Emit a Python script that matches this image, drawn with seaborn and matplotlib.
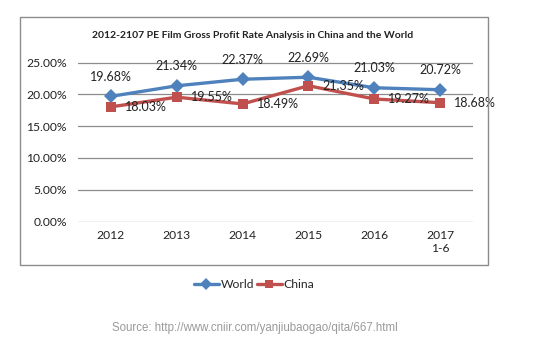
import matplotlib
matplotlib.use("Agg")
import matplotlib.pyplot as plt
from matplotlib.patches import Rectangle
from matplotlib.lines import Line2D
from matplotlib.ticker import PercentFormatter
import seaborn as sns
import pandas as pd

# Data
years = ["2012", "2013", "2014", "2015", "2016", "2017\n1-6"]
world = [19.68, 21.34, 22.37, 22.69, 21.03, 20.72]
china = [18.03, 19.55, 18.49, 21.35, 19.27, 18.68]
yticks = [0, 5, 10, 15, 20, 25]

title = "2012-2107 PE Film Gross Profit Rate Analysis in China and the World"
source = "Source: http://www.cniir.com/yanjiubaogao/qita/667.html"

blue = "#4F81BD"
red = "#C0504D"
text_color = "#222222"

df = pd.DataFrame({
    "pos": list(range(len(years))) * 2,
    "value": world + china,
    "series": ["World"] * len(years) + ["China"] * len(years),
})

sns.set_theme(style="white")
plt.rcParams["font.family"] = ["Lato", "DejaVu Sans"]

fig = plt.figure(figsize=(5.36, 3.48), dpi=100)
fig.patch.set_facecolor("white")

# chart frame
fig.patches.append(Rectangle((0.0373, 0.2385), 0.8731, 0.7125, transform=fig.transFigure,
                             fill=False, edgecolor="#8c8c8c", linewidth=1.0, zorder=0))

ax = fig.add_axes([0.1455, 0.362, 0.737, 0.4598])
ax.set_facecolor("none")

sns.lineplot(data=df, x="pos", y="value", hue="series", style="series",
             palette={"World": blue, "China": red},
             markers={"World": "D", "China": "s"}, dashes=False,
             linewidth=2.4, markersize=7, markeredgewidth=0, ax=ax, legend=False)

ax.set_xlim(-0.5, len(years) - 0.5)
ax.set_ylim(-0.08, 25.08)
ax.set_yticks(yticks)
ax.yaxis.set_major_formatter(PercentFormatter(decimals=2))
ax.set_xticks(range(len(years)))
ax.set_xticklabels(years)
ax.grid(axis="y", color="#8c8c8c", linewidth=0.9)
ax.set_axisbelow(True)
for s in ax.spines.values():
    s.set_visible(False)
ax.tick_params(axis="both", length=0, labelsize=8.7, colors=text_color)
ax.tick_params(axis="x", pad=6)
ax.tick_params(axis="y", pad=8)
ax.set_xlabel("")
ax.set_ylabel("")

# value labels
for i, v in enumerate(world):
    ax.annotate(f"{v:.2f}%", (i, v), xytext=(0, 14), textcoords="offset points",
                ha="center", va="center", fontsize=9, color=text_color)
for i, v in enumerate(china):
    ax.annotate(f"{v:.2f}%", (i, v), xytext=(10, 0), textcoords="offset points",
                ha="left", va="center", fontsize=9, color=text_color)

fig.text(0.472, 0.898, title, ha="center", va="center", fontsize=7.5,
         fontweight="bold", color=text_color)

handles = [Line2D([], [], color=blue, marker="D", markersize=6, linewidth=2.4, markeredgewidth=0),
           Line2D([], [], color=red, marker="s", markersize=6, linewidth=2.4, markeredgewidth=0)]
fig.legend(handles, ["World", "China"], loc="center", bbox_to_anchor=(0.474, 0.182),
           ncol=2, frameon=False, handlelength=2.1, columnspacing=0.2,
           handletextpad=0.15, prop={"size": 8.7})

fig.text(0.476, 0.057, source, ha="center", va="center", fontsize=8.3,
         color="#9a9a9a", family="Liberation Sans")

fig.savefig("out.png", dpi=100, facecolor="white")
